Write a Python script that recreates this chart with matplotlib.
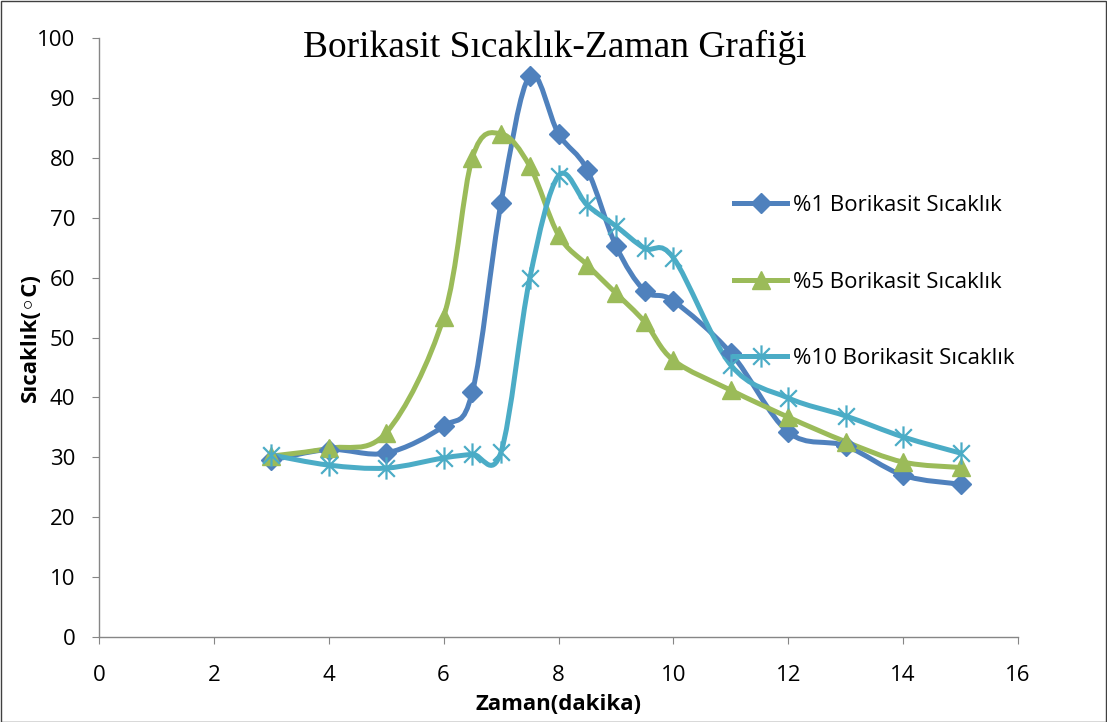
import matplotlib
matplotlib.use("Agg")
import matplotlib.pyplot as plt
from matplotlib.path import Path
from matplotlib.patches import PathPatch, Rectangle
from matplotlib.lines import Line2D

# ---- data ----
time_min = [3, 4, 5, 6, 6.5, 7, 7.5, 8, 8.5, 9, 9.5, 10, 11, 12, 13, 14, 15]
temp_1 = [29.5, 31.3, 30.7, 35.2, 40.9, 72.5, 93.7, 84.0, 78.0, 65.3, 57.8, 56.1, 47.4, 34.2, 31.9, 27.0, 25.5]
temp_5 = [30.2, 31.5, 34.1, 53.4, 80.0, 84.0, 78.6, 67.1, 62.1, 57.4, 52.6, 46.2, 41.2, 36.7, 32.6, 29.2, 28.3]
temp_10 = [30.4, 28.7, 28.2, 29.9, 30.5, 30.9, 59.9, 77.0, 72.1, 68.6, 64.9, 63.3, 45.4, 39.9, 36.9, 33.4, 30.7]
labels = ["%1 Borikasit Sıcaklık", "%5 Borikasit Sıcaklık", "%10 Borikasit Sıcaklık"]
colors = ["#4F81BD", "#9BBB59", "#4BACC6"]
x_ticks = [0, 2, 4, 6, 8, 10, 12, 14, 16]
y_ticks = [0, 10, 20, 30, 40, 50, 60, 70, 80, 90, 100]

FONT = ["Open Sans", "DejaVu Sans"]
FS = 16

def smooth_path(xs, ys):
    """Excel-like smoothed line: cubic Bezier segments (Catmull-Rom control points)."""
    pts = list(zip(xs, ys))
    n = len(pts)
    verts = [pts[0]]
    codes = [Path.MOVETO]
    for i in range(n - 1):
        p0 = pts[i - 1] if i > 0 else pts[i]
        p1 = pts[i]
        p2 = pts[i + 1]
        p3 = pts[i + 2] if i + 2 < n else pts[i + 1]
        c1 = (p1[0] + (p2[0] - p0[0]) / 6.0, p1[1] + (p2[1] - p0[1]) / 6.0)
        c2 = (p2[0] - (p3[0] - p1[0]) / 6.0, p2[1] - (p3[1] - p1[1]) / 6.0)
        verts += [c1, c2, p2]
        codes += [Path.CURVE4] * 3
    return Path(verts, codes)

star = Path([(0, -1), (0, 1), (-0.75, -0.75), (0.75, 0.75), (-0.75, 0.75), (0.75, -0.75)],
            [Path.MOVETO, Path.LINETO, Path.MOVETO, Path.LINETO, Path.MOVETO, Path.LINETO])

fig = plt.figure(figsize=(11.07, 7.22), dpi=100)
ax = fig.add_axes([99 / 1107, 85 / 722, 919 / 1107, 599 / 722])

series = [temp_1, temp_5, temp_10]
markers = ["D", "^", star]
msizes = [10, 13, 16]
handles = []
for ys, c, m, ms, lab in zip(series, colors, markers, msizes, labels):
    ax.add_patch(PathPatch(smooth_path(time_min, ys), facecolor="none", edgecolor=c,
                           lw=3.6, capstyle="round", joinstyle="round", zorder=2))
    if m is star:
        ax.plot(time_min, ys, ls="none", marker=m, ms=ms, mec=c, mew=1.6, zorder=3)
        h = Line2D([], [], color=c, lw=3.6, marker=m, ms=ms, mec=c, mew=1.6)
    else:
        ax.plot(time_min, ys, ls="none", marker=m, ms=ms, mfc=c, mec=c, zorder=3)
        h = Line2D([], [], color=c, lw=3.6, marker=m, ms=ms, mfc=c, mec=c)
    handles.append(h)

ax.set_xlim(0, 16)
ax.set_ylim(0, 100)
ax.set_xticks(x_ticks)
ax.set_yticks(y_ticks)
for s in ["top", "right"]:
    ax.spines[s].set_visible(False)
for s in ["left", "bottom"]:
    ax.spines[s].set_color("#868686")
    ax.spines[s].set_linewidth(1.0)
ax.tick_params(axis="both", direction="out", length=5, color="#868686", labelsize=FS)
ax.tick_params(axis="x", pad=15)
ax.tick_params(axis="y", pad=12)
for t in ax.get_xticklabels() + ax.get_yticklabels():
    t.set_family(FONT)

ax.set_xlabel("Zaman(dakika)", fontsize=FS, fontweight="bold", family=FONT)
ax.set_ylabel("Sıcaklık(◦C)", fontsize=FS, fontweight="bold", family=FONT)
ax.xaxis.set_label_coords(0.5, -(704 - 637) / 599)
ax.yaxis.set_label_coords((30 - 99) / 919, 0.5)
ax.xaxis.label.set_va("center")
ax.yaxis.label.set_va("center")
ax.yaxis.label.set_ha("center")

fig.text(555 / 1107, 1 - 47 / 722, "Borikasit Sıcaklık-Zaman Grafiği", ha="center", va="center",
         fontsize=27, family=["Liberation Serif", "DejaVu Serif"])

leg = ax.legend(handles, labels, loc="upper left", bbox_to_anchor=(734 / 1107, 1 - 195 / 722),
                bbox_transform=fig.transFigure, frameon=False, handlelength=2.4, borderpad=0,
                borderaxespad=0, labelspacing=2.5, handletextpad=0.25,
                prop={"family": FONT, "size": FS})

fig.add_artist(Rectangle((0.5 / 1107, 0.5 / 722), 1 - 1.5 / 1107, 1 - 1.5 / 722,
                         transform=fig.transFigure, fill=False, edgecolor="#404040", lw=1.0))

fig.savefig("out.png", dpi=100)
